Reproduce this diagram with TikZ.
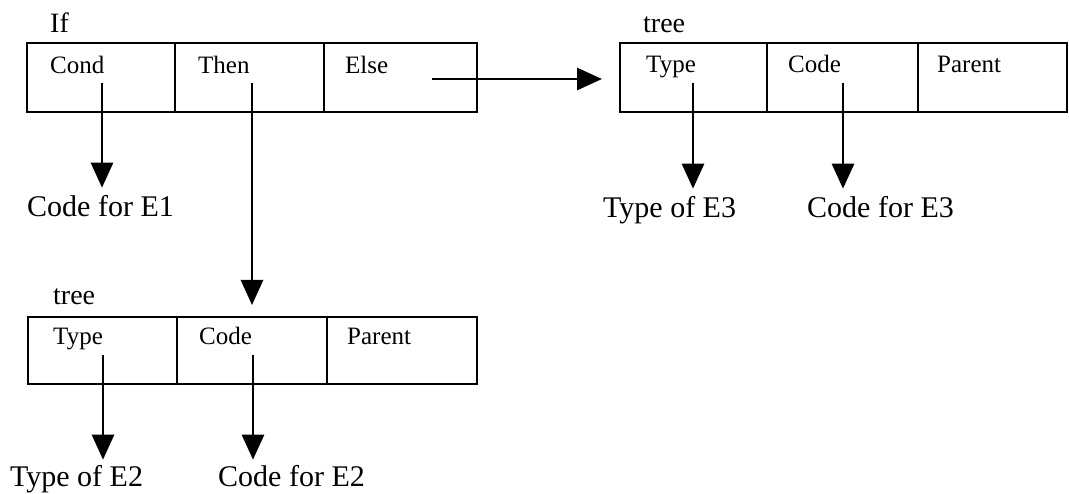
\documentclass[tikz,border=0pt]{standalone}
\usepackage{fontspec}
\setmainfont{Liberation Serif}
\usetikzlibrary{arrows.meta,calc}
\begin{document}
\begin{tikzpicture}[x=1pt,y=-1pt,
  cell/.style={draw,line width=2.6pt,minimum height=69pt,inner sep=0pt,outer sep=0pt,anchor=north west},
  ctext/.style={anchor=base west,inner sep=0pt,font=\fontsize{25}{30}\selectfont},
  lbl/.style={anchor=base west,inner sep=0pt,font=\fontsize{30}{36}\selectfont},
  title/.style={anchor=base west,inner sep=0pt,font=\fontsize{28}{34}\selectfont},
  ptr/.style={line width=2.8pt,-{Triangle[width=22pt,length=25pt]}}
]
\useasboundingbox (0,0) rectangle (1069,494);

% "If" record
\node[title] (iftitle) at (50,33) {If};
\node[cell,minimum width=148pt] (ifcond) at (27,43) {};
\node[cell,minimum width=149pt] (ifthen) at (175,43) {};
\node[cell,minimum width=153pt] (ifelse) at (324,43) {};
\node[ctext] (condtxt) at (50,74) {Cond};
\node[ctext] (thentxt) at (198,74) {Then};
\node[ctext] (elsetxt) at (345,74) {Else};

% tree record for E3
\node[title] (treeA) at (643,33) {tree};
\node[cell,minimum width=147pt] (atype) at (620,43) {};
\node[cell,minimum width=151pt] (acode) at (767,43) {};
\node[cell,minimum width=149pt] (aparent) at (918,43) {};
\node[ctext] (atypetxt) at (646,73) {Type};
\node[ctext] (acodetxt) at (788,73) {Code};
\node[ctext] (aparenttxt) at (937,73) {Parent};

% tree record for E2
\node[title] (treeB) at (53,305) {tree};
\node[cell,minimum width=149pt,minimum height=67pt] (btype) at (28,317) {};
\node[cell,minimum width=150pt,minimum height=67pt] (bcode) at (177,317) {};
\node[cell,minimum width=150pt,minimum height=67pt] (bparent) at (327,317) {};
\node[ctext] (btypetxt) at (53,345) {Type};
\node[ctext] (bcodetxt) at (199,345) {Code};
\node[ctext] (bparenttxt) at (347,345) {Parent};

% target labels
\node[lbl] (e1) at (27,217) {Code for E1};
\node[lbl] (e3t) at (603,218) {Type of E3};
\node[lbl] (e3c) at (807,218) {Code for E3};
\node[lbl] (e2t) at (10,486) {Type of E2};
\node[lbl] (e2c) at (218,486) {Code for E2};

% pointer origins inside the fields
\coordinate (condp) at (102,83);
\coordinate (thenp) at (252,83);
\coordinate (elsep) at (432,79);
\coordinate (atypep) at (693,83);
\coordinate (acodep) at (843,83);
\coordinate (btypep) at (103,355);
\coordinate (bcodep) at (253,355);

% pointers
\draw[ptr,shorten >=8pt] (condp) -- (condp |- e1.north);
\draw[ptr,shorten >=12pt] (thenp) -- (thenp |- bcode.north);
\draw[ptr,shorten >=18pt] (elsep) -- (elsep -| atype.west);
\draw[ptr,shorten >=8pt] (atypep) -- (atypep |- e3t.north);
\draw[ptr,shorten >=8pt] (acodep) -- (acodep |- e3c.north);
\draw[ptr,shorten >=5pt] (btypep) -- (btypep |- e2t.north);
\draw[ptr,shorten >=5pt] (bcodep) -- (bcodep |- e2c.north);
\end{tikzpicture}
\end{document}
